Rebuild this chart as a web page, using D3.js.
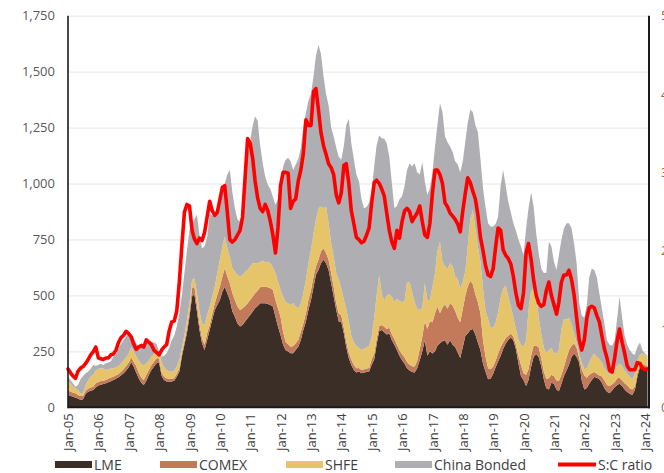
<!DOCTYPE html>
<html><head><meta charset="utf-8">
<script src="https://cdn.jsdelivr.net/npm/d3@7"></script>
<style>
body{margin:0;background:#fff;}
svg text{font-family:"Open Sans","Noto Sans",sans-serif;}
</style></head>
<body><svg id="chart" width="664" height="473"></svg>
<script>
// ---------- DATA ----------
const startMonth = [2005, 0];      // Jan-2005, monthly observations
const monthCount = 230;            // Jan-2005 .. Feb-2024
const tickLabels = ["Jan-05","Jan-06","Jan-07","Jan-08","Jan-09","Jan-10","Jan-11","Jan-12","Jan-13","Jan-14","Jan-15","Jan-16","Jan-17","Jan-18","Jan-19","Jan-20","Jan-21","Jan-22","Jan-23","Jan-24"];
const leftTicks = [0,250,500,750,1000,1250,1500,1750];
const rightTicks = [0,1,2,3,4,5];
const seriesNames = ["LME","COMEX","SHFE","China Bonded"];
const ratioName = "S:C ratio";

const lme = [
 55,51,48,43,39,33,36,60,69,74,77,89,
 97,101,104,107,112,116,122,128,134,143,152,164,
 179,201,182,155,130,110,100,119,145,167,182,197,
 200,140,122,115,115,115,119,137,159,226,279,331,
 405,495,505,428,346,286,256,301,346,391,435,457,
 480,517,539,510,480,428,405,375,361,368,383,398,
 413,428,443,453,465,465,465,462,457,450,405,361,
 323,279,256,249,241,241,256,271,301,346,383,435,
 480,539,591,614,644,659,644,614,554,495,435,383,
 380,330,270,219,189,167,155,160,152,155,158,160,
 190,215,280,340,346,335,325,330,300,280,255,230,
 210,195,175,165,158,155,175,210,250,300,230,250,
 240,250,275,286,295,300,280,300,280,270,245,220,
 270,320,330,345,350,325,290,255,195,160,125,128,
 150,180,205,230,260,285,301,312,300,260,197,140,
 122,95,122,180,225,238,225,185,125,85,80,110,
 105,80,72,105,140,165,190,225,240,225,200,120,
 80,86,105,122,135,132,125,110,85,70,63,75,
 90,100,105,95,80,68,60,55,77,135,180,175,
 174,174];
const comex = [
 22,19,18,20,16,18,15,14,14,15,15,18,
 16,17,15,15,16,17,15,15,15,16,18,21,
 21,23,22,30,25,23,22,26,22,22,22,22,
 19,15,15,15,13,12,12,12,15,15,15,22,
 23,37,34,29,29,22,23,30,22,26,30,45,
 59,67,82,74,74,82,75,75,74,75,70,67,
 67,67,67,68,71,74,74,74,75,74,75,82,
 82,59,38,33,30,33,30,30,37,29,37,45,
 44,45,38,45,52,52,46,45,45,44,30,37,
 30,25,25,26,23,22,19,16,15,15,15,16,
 25,25,25,22,22,25,25,25,25,25,25,25,
 27,27,27,25,25,27,33,50,65,85,120,135,
 140,170,175,134,150,160,160,165,175,160,155,160,
 170,180,210,220,200,180,180,165,105,67,49,42,
 32,30,35,40,30,25,19,18,16,20,33,50,
 30,50,48,50,50,38,43,35,35,43,50,35,
 35,40,46,40,40,55,66,50,45,40,20,50,
 62,46,40,30,23,18,17,28,35,30,32,28,
 22,30,27,25,28,30,25,25,15,18,15,17,
 15,9];
const shfe = [
 45,37,26,22,22,12,12,26,39,48,53,58,
 59,57,55,45,42,40,37,36,36,38,39,39,
 41,44,45,44,54,61,66,52,42,37,33,30,
 22,45,42,37,34,32,33,33,38,23,29,37,
 37,37,38,53,53,68,89,82,82,78,74,97,
 120,134,142,127,119,111,126,141,149,148,153,149,
 149,149,134,123,115,117,108,115,112,102,119,119,
 119,157,178,183,186,191,164,142,127,135,149,164,
 179,194,208,231,201,179,207,163,134,134,134,149,
 120,125,145,135,108,101,101,89,89,92,95,99,
 101,160,195,228,142,115,150,150,170,165,205,220,
 233,253,358,370,332,288,232,175,130,169,130,95,
 160,180,250,320,205,169,178,179,175,154,174,150,
 120,110,180,275,332,295,250,230,230,203,221,185,
 173,170,185,220,240,235,175,120,84,70,71,90,
 119,155,265,290,255,244,132,110,105,117,126,120,
 105,120,138,205,215,172,144,95,45,25,15,30,
 28,43,55,73,82,75,73,62,55,60,52,47,
 53,55,63,65,57,52,50,45,58,57,40,48,
 45,39];
const bonded = [
 15,15,15,7,23,62,77,52,38,35,45,20,
 18,20,15,30,30,33,52,59,75,88,91,94,
 90,57,56,56,64,91,92,88,85,68,53,34,
 11,26,51,74,103,141,156,179,208,236,277,310,
 325,241,263,350,342,334,352,347,417,361,331,291,
 253,237,237,329,388,339,284,249,246,279,394,516,
 561,616,656,636,519,434,383,344,331,314,306,368,
 466,581,633,650,643,596,635,667,695,745,746,726,
 697,702,733,730,683,590,503,528,517,537,561,551,
 576,690,820,910,860,820,765,745,674,628,627,640,
 655,680,670,625,692,725,680,615,506,420,415,455,
 472,515,500,530,561,621,610,605,650,456,470,500,
 510,565,560,619,670,581,567,521,510,516,511,520,
 540,580,550,490,438,460,510,460,450,465,427,453,
 453,440,427,500,531,445,425,420,422,440,449,440,
 409,500,455,440,370,260,290,290,335,355,484,455,
 405,374,424,400,405,430,422,430,400,354,235,210,
 230,285,380,395,374,355,295,240,195,140,133,125,
 135,215,300,215,155,130,121,115,85,60,55,15,
 7,6];
const scRatio = [
 0.49,0.44,0.40,0.37,0.46,0.50,0.52,0.56,0.61,0.67,0.71,0.77,
 0.63,0.62,0.61,0.63,0.63,0.67,0.68,0.73,0.83,0.89,0.92,0.97,
 0.94,0.90,0.81,0.74,0.77,0.79,0.77,0.86,0.83,0.80,0.73,0.70,
 0.67,0.73,0.77,0.80,0.97,1.09,1.10,1.23,1.60,2.06,2.49,2.59,
 2.57,2.26,2.15,2.09,2.16,2.13,2.23,2.43,2.63,2.51,2.45,2.49,
 2.65,2.81,2.83,2.49,2.14,2.11,2.14,2.20,2.26,2.43,2.94,3.43,
 3.37,3.17,2.89,2.67,2.54,2.50,2.59,2.51,2.37,2.20,1.97,2.29,
 2.83,3.00,3.00,2.99,2.54,2.63,2.66,2.89,3.03,3.24,3.67,3.60,
 3.60,4.03,4.07,3.80,3.51,3.34,3.23,3.11,3.06,2.97,2.71,2.61,
 2.74,3.09,3.11,2.86,2.51,2.34,2.17,2.14,2.10,2.12,2.20,2.29,
 2.61,2.87,2.90,2.86,2.79,2.70,2.48,2.26,2.11,2.03,2.26,2.16,
 2.37,2.51,2.54,2.50,2.37,2.43,2.48,2.57,2.37,2.20,2.17,2.35,
 2.74,3.03,3.03,2.97,2.86,2.61,2.56,2.48,2.44,2.40,2.34,2.24,
 2.51,2.74,2.93,2.87,2.76,2.66,2.46,2.17,2.00,1.81,1.69,1.67,
 1.77,2.06,2.29,2.26,2.01,1.94,1.90,1.83,1.67,1.46,1.30,1.26,
 1.46,1.97,2.09,1.89,1.63,1.43,1.33,1.29,1.31,1.49,1.60,1.43,
 1.31,1.19,1.34,1.60,1.69,1.69,1.75,1.63,1.43,1.14,0.86,0.73,
 0.86,1.14,1.27,1.29,1.27,1.17,1.09,0.91,0.74,0.63,0.47,0.45,
 0.63,0.86,1.00,0.83,0.69,0.53,0.48,0.48,0.48,0.57,0.56,0.50,
 0.48,0.49];

const colors = {"LME":"#3a2e26","COMEX":"#c27a5b","SHFE":"#e6c46a","China Bonded":"#afafb3"};
const ratioColor = "#ff0000";

// ---------- BUILD ----------
const start = new Date(startMonth[0], startMonth[1], 1);
const dates = d3.range(monthCount).map(i => d3.timeMonth.offset(start, i));
const table = dates.map((d, i) => ({
  date: d, "LME": lme[i], "COMEX": comex[i], "SHFE": shfe[i], "China Bonded": bonded[i], ratio: scRatio[i]
}));

const W = 664, H = 473;
const L = 68, R = 649, T = 15.7, B = 407.3;

const svg = d3.select("#chart");
const x = d3.scaleTime().domain([new Date(2005,0,1), new Date(2024,0,1)]).range([L, 645]);
const y = d3.scaleLinear().domain([0, 1750]).range([B, T]);
const yR = d3.scaleLinear().domain([0, 5]).range([B, T]);

// gridlines
svg.append("g").attr("transform", `translate(${L},0)`)
  .call(d3.axisLeft(y).tickValues(leftTicks.slice(1)).tickSize(-(R - L)).tickFormat(""))
  .call(g => g.select(".domain").remove())
  .call(g => g.selectAll("line").attr("stroke", "#e6e6e6").attr("stroke-width", 1));

// stacked areas
const stack = d3.stack().keys(seriesNames);
const layers = stack(table);
const area = d3.area()
  .x(d => x(d.data.date))
  .y0(d => y(d[0]))
  .y1(d => y(d[1]));
svg.append("g").selectAll("path").data(layers).join("path")
  .attr("d", area)
  .attr("fill", d => colors[d.key]);

// ratio line
const line = d3.line().x(d => x(d.date)).y(d => yR(d.ratio));
svg.append("path").datum(table)
  .attr("d", line)
  .attr("fill", "none")
  .attr("stroke", ratioColor)
  .attr("stroke-width", 3.6)
  .attr("stroke-linejoin", "round")
  .attr("stroke-linecap", "round");

// left axis
svg.append("g").attr("transform", `translate(${L},0)`)
  .call(d3.axisLeft(y).tickValues(leftTicks).tickSize(0).tickPadding(13).tickFormat(d3.format(",")))
  .call(g => g.select(".domain").remove())
  .call(g => g.selectAll("text").attr("fill", "#595959").style("font-size", "13px"));

// right axis (labels partly outside the frame)
svg.append("g").attr("transform", `translate(${R},0)`)
  .call(d3.axisRight(yR).tickValues(rightTicks).tickSize(0).tickPadding(12).tickFormat(d3.format("d")))
  .call(g => g.select(".domain").remove())
  .call(g => g.selectAll("text").attr("fill", "#8a6a4a").style("font-size", "13px"));

// bottom axis
const tickDates = tickLabels.map((t, i) => new Date(2005 + i, 0, 1));
svg.append("g").attr("transform", `translate(0,${B})`)
  .call(d3.axisBottom(x).tickValues(tickDates).tickSize(0).tickFormat((d, i) => tickLabels[i]))
  .call(g => g.select(".domain").remove())
  .call(g => g.selectAll("text")
     .attr("transform", "rotate(-90)")
     .attr("x", -6).attr("y", 0).attr("dy", "0.35em")
     .style("text-anchor", "end")
     .attr("fill", "#404040").style("font-size", "13px"));

// frame
svg.append("line").attr("x1", L).attr("x2", L).attr("y1", T).attr("y2", B + 1).attr("stroke", "#1a1a1a").attr("stroke-width", 1.6);
svg.append("line").attr("x1", R).attr("x2", R).attr("y1", T).attr("y2", B + 1).attr("stroke", "#1a1a1a").attr("stroke-width", 2);
svg.append("line").attr("x1", L).attr("x2", R + 1).attr("y1", B).attr("y2", B).attr("stroke", "#1a1a1a").attr("stroke-width", 2);

// legend
const legendItems = [
  {name: "LME", x: 55, type: "rect"},
  {name: "COMEX", x: 160, type: "rect"},
  {name: "SHFE", x: 286, type: "rect"},
  {name: "China Bonded", x: 395, type: "rect"},
  {name: ratioName, x: 558, type: "line"}
];
const lg = svg.append("g");
legendItems.forEach(it => {
  if (it.type === "rect") {
    lg.append("rect").attr("x", it.x).attr("y", 461).attr("width", 37).attr("height", 7).attr("fill", colors[it.name]);
  } else {
    lg.append("line").attr("x1", it.x).attr("x2", it.x + 38).attr("y1", 464.5).attr("y2", 464.5)
      .attr("stroke", ratioColor).attr("stroke-width", 4);
  }
  lg.append("text").attr("x", it.x + (it.type === "rect" ? 39 : 40)).attr("y", 465).attr("dy", "0.35em")
    .attr("fill", "#404040").style("font-size", "14px").text(it.name);
});
</script>
</body></html>
